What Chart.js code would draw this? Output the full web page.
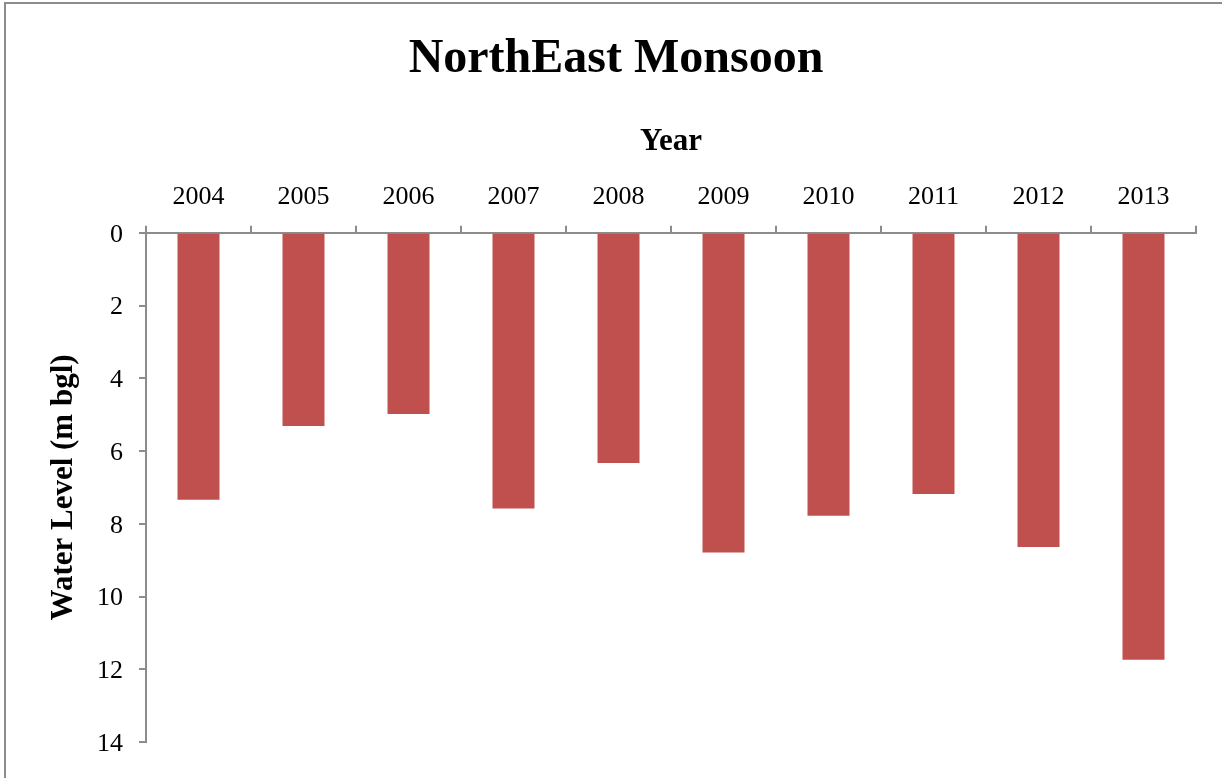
<!DOCTYPE html>
<html>
<head>
<meta charset="utf-8">
<script src="https://cdn.jsdelivr.net/npm/chart.js@4"></script>
<style>
    html, body { margin: 0; padding: 0; background: #fff; }
    #wrap { position: relative; width: 1222px; height: 778px; overflow: hidden; }
    #frame { position: absolute; left: 4px; top: 2px; width: 1300px; height: 900px;
             border-left: 2px solid #8c8c8c; border-top: 2px solid #8c8c8c; }
    canvas { position: absolute; left: 0; top: 0; }
</style>
</head>
<body>
<div id="wrap">
    <div id="frame"></div>
    <canvas id="monsoonChart" width="1222" height="778"></canvas>
</div>
<script>
// Yıllar ve su seviyeleri (m bgl)
const years = ['2004', '2005', '2006', '2007', '2008', '2009', '2010', '2011', '2012', '2013'];
const waterLevels = [7.34, 5.31, 4.98, 7.58, 6.33, 8.79, 7.78, 7.18, 8.64, 11.74];
const yTicks = [0, 2, 4, 6, 8, 10, 12, 14];

const serif = 'Liberation Serif, Times New Roman, serif';

const monsoonChart = new Chart(
    document.getElementById('monsoonChart'),
    {
        type: 'bar',
        data: {
            labels: years,
            datasets: [{
                label: 'Water Level',
                data: waterLevels,
                backgroundColor: '#C0504D',
                borderWidth: 0,
                barPercentage: 0.4,
                categoryPercentage: 1
            }]
        },
        options: {
            responsive: false,
            animation: false,
            layout: {
                padding: { left: 36, right: 26, bottom: 36, top: 0 }
            },
            plugins: {
                legend: { display: false },
                tooltip: { enabled: false },
                title: {
                    display: true,
                    text: 'NorthEast Monsoon',
                    color: '#000',
                    font: { family: serif, size: 48, weight: 'bold' },
                    padding: { top: 31, bottom: 0 }
                }
            },
            scales: {
                x: {
                    position: 'top',
                    afterFit: function(scale) { scale.height = 144.2; },
                    grid: {
                        offset: true,
                        drawOnChartArea: false,
                        drawTicks: true,
                        tickLength: 7,
                        color: '#8c8c8c',
                        lineWidth: 2
                    },
                    border: { color: '#8c8c8c', width: 2 },
                    ticks: {
                        color: '#000',
                        padding: 13,
                        font: { family: serif, size: 26 }
                    },
                    title: {
                        display: true,
                        text: 'Year',
                        color: '#000',
                        font: { family: serif, size: 31, weight: 'bold' },
                        padding: { top: 34.6, bottom: 0 }
                    }
                },
                y: {
                    reverse: true,
                    min: 0,
                    max: 14,
                    afterFit: function(scale) { scale.width = 110; },
                    afterBuildTicks: function(scale) {
                        scale.ticks = yTicks.map(v => ({ value: v }));
                    },
                    grid: {
                        drawOnChartArea: false,
                        drawTicks: true,
                        tickLength: 7,
                        color: '#8c8c8c',
                        lineWidth: 2
                    },
                    border: { color: '#8c8c8c', width: 2 },
                    ticks: {
                        color: '#000',
                        padding: 16,
                        labelOffset: 2,
                        font: { family: serif, size: 26 }
                    },
                    title: {
                        display: true,
                        text: 'Water Level (m bgl)',
                        color: '#000',
                        font: { family: serif, size: 31, weight: 'bold' },
                        padding: { top: 9.4, bottom: 0 }
                    }
                }
            }
        }
    }
);
</script>
</body>
</html>
